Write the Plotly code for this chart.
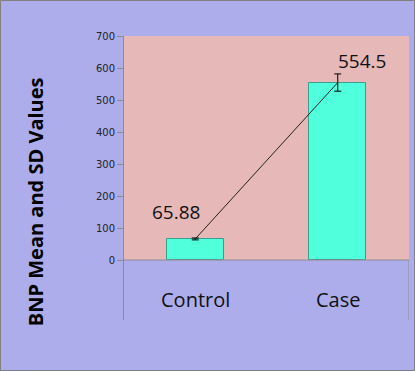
import plotly.graph_objects as go

categories = ["Control", "Case"]
means = [65.88, 554.5]
sds = [3, 27]
mean_labels = ["65.88", "554.5"]
y_ticks = [0, 100, 200, 300, 400, 500, 600, 700]

x_pos = list(range(len(categories)))

BG = "#ADADEC"
PLOT_BG = "#E6B8B7"
BAR = "#50FFDC"
BAR_EDGE = "#3E9E8C"
AXIS = "#8C8C8C"

fig = go.Figure()

fig.add_trace(go.Bar(
    x=x_pos, y=means, width=0.4,
    marker=dict(color=BAR, line=dict(color=BAR_EDGE, width=1)),
    error_y=dict(type="data", array=sds, visible=True, color="black",
                 thickness=1, width=3.5),
    showlegend=False, hoverinfo="skip",
))

fig.add_trace(go.Scatter(
    x=x_pos, y=means, mode="lines",
    line=dict(color="#222222", width=1),
    showlegend=False, hoverinfo="skip",
))

# pink plot area (value region only)
fig.add_shape(type="rect", xref="x", yref="y", x0=-0.5, x1=1.5, y0=0, y1=700,
              fillcolor=PLOT_BG, line_width=0, layer="below")
# category axis line at zero
fig.add_shape(type="line", xref="x", yref="y", x0=-0.5, x1=1.5, y0=0, y1=0,
              line=dict(color=AXIS, width=1))
# right divider in category area
fig.add_shape(type="line", xref="x", yref="y", x0=1.5, x1=1.5, y0=-187.5, y1=0,
              line=dict(color=AXIS, width=1))
# outer border of the whole figure
fig.add_shape(type="rect", xref="paper", yref="paper",
              x0=-0.4333, x1=1.0193, y0=-0.1778, y1=1.1250,
              line=dict(color="#808080", width=1), fillcolor="rgba(0,0,0,0)")

# category labels
for xi, c in zip(x_pos, categories):
    fig.add_annotation(x=xi, y=-122, xref="x", yref="y", text=c, showarrow=False,
                       font=dict(family="Open Sans", size=20, color="#111111"))

# value labels
shifts = [(-19, 27), (24, 22)]
for xi, m, lab, (dx, dy) in zip(x_pos, means, mean_labels, shifts):
    fig.add_annotation(x=xi, y=m, xref="x", yref="y", text=lab, showarrow=False,
                       xshift=dx, yshift=dy,
                       font=dict(family="Open Sans", size=19, color="#111111"))

# y-axis title
fig.add_annotation(x=-0.312, y=0.415, xref="paper", yref="paper",
                   text="<b>BNP Mean and SD Values</b>", textangle=-90,
                   showarrow=False, xanchor="center", yanchor="middle",
                   font=dict(family="Open Sans", size=20, color="black"))

fig.update_layout(
    width=415, height=371,
    margin=dict(l=124, r=6, t=36, b=51),
    paper_bgcolor=BG, plot_bgcolor=BG,
    bargap=0,
    xaxis=dict(range=[-0.5, 1.5], showticklabels=False, showgrid=False,
               zeroline=False, showline=False, ticks=""),
    yaxis=dict(range=[-187.5, 700], tickvals=y_ticks, showgrid=False,
               zeroline=False, showline=True, linecolor=AXIS, linewidth=1,
               ticks="outside", ticklen=6, tickcolor=AXIS,
               tickfont=dict(family="DejaVu Sans", size=10, color="#222222")),
)

fig.write_html("out.html", config={"displayModeBar": False},
               post_script="document.body.style.margin='0';document.body.style.padding='0';")
